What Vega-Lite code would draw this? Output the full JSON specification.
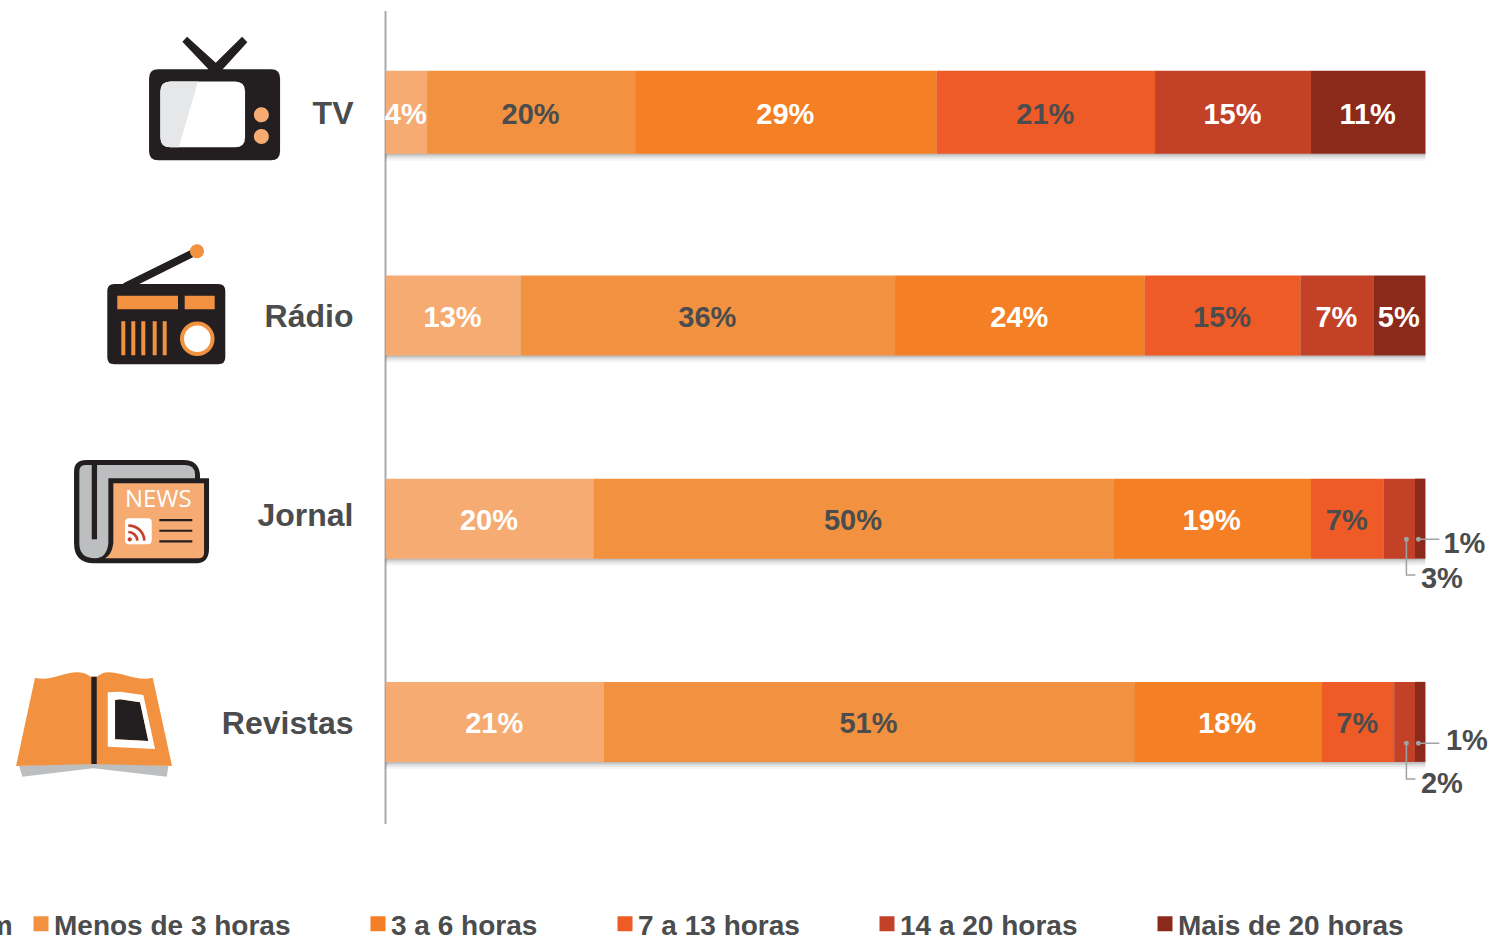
{"$schema":"https://vega.github.io/schema/vega-lite/v6.json","width":1491,"height":939,"padding":0,"autosize":{"type":"none"},"background":"#ffffff","config":{"view":{"stroke":null},"font":"Liberation Sans"},
"data":{"values":[
{"media":"TV","hours":"Nenhum","ordem":1,"pct":4},{"media":"TV","hours":"Menos de 3 horas","ordem":2,"pct":20},{"media":"TV","hours":"3 a 6 horas","ordem":3,"pct":29},{"media":"TV","hours":"7 a 13 horas","ordem":4,"pct":21},{"media":"TV","hours":"14 a 20 horas","ordem":5,"pct":15},{"media":"TV","hours":"Mais de 20 horas","ordem":6,"pct":11},
{"media":"Rádio","hours":"Nenhum","ordem":1,"pct":13},{"media":"Rádio","hours":"Menos de 3 horas","ordem":2,"pct":36},{"media":"Rádio","hours":"3 a 6 horas","ordem":3,"pct":24},{"media":"Rádio","hours":"7 a 13 horas","ordem":4,"pct":15},{"media":"Rádio","hours":"14 a 20 horas","ordem":5,"pct":7},{"media":"Rádio","hours":"Mais de 20 horas","ordem":6,"pct":5},
{"media":"Jornal","hours":"Nenhum","ordem":1,"pct":20},{"media":"Jornal","hours":"Menos de 3 horas","ordem":2,"pct":50},{"media":"Jornal","hours":"3 a 6 horas","ordem":3,"pct":19},{"media":"Jornal","hours":"7 a 13 horas","ordem":4,"pct":7},{"media":"Jornal","hours":"14 a 20 horas","ordem":5,"pct":3},{"media":"Jornal","hours":"Mais de 20 horas","ordem":6,"pct":1},
{"media":"Revistas","hours":"Nenhum","ordem":1,"pct":21},{"media":"Revistas","hours":"Menos de 3 horas","ordem":2,"pct":51},{"media":"Revistas","hours":"3 a 6 horas","ordem":3,"pct":18},{"media":"Revistas","hours":"7 a 13 horas","ordem":4,"pct":7},{"media":"Revistas","hours":"14 a 20 horas","ordem":5,"pct":2},{"media":"Revistas","hours":"Mais de 20 horas","ordem":6,"pct":1}
]},
"transform":[{"stack":"pct","groupby":["media"],"sort":[{"field":"ordem","order":"ascending"}],"as":["x0","x1"]},{"calculate":"(datum.x0+datum.x1)/2","as":"mid"},{"calculate":"datum.pct+'%'","as":"rotulo"}],
"encoding":{"y":{"field":"media","type":"nominal","sort":null,"title":null,"scale":{"type":"band","domain":["TV","Rádio","Jornal","Revistas"],"range":[10.5,823.5],"paddingInner":0,"paddingOuter":0},"axis":{"offset":-385,"orient":"left","ticks":false,"grid":false,"domain":true,"domainColor":"#a8aaab","domainWidth":2,"labelFont":"Liberation Sans","labelFontWeight":"bold","labelFontSize":32,"labelColor":"#4a4c4d","labelPadding":32,"labelOffset":{"condition":{"test":"datum.value==='Jornal'","value":-3},"value":2},"labelLimit":300,"title":null}}},
"layer":[
{"mark":{"type":"bar","color":"#000000","opacity":0.04,"yOffset":7},"encoding":{"x":{"field":"x0","type":"quantitative","title":null,"axis":null,"scale":{"domain":[-37.084,106.309],"nice":false,"zero":false}},"x2":{"field":"x1"},"size":{"condition":{"test":"datum.media==='TV'","value":83},"value":80}}},
{"mark":{"type":"bar","color":"#000000","opacity":0.06,"yOffset":5},"encoding":{"x":{"field":"x0","type":"quantitative"},"x2":{"field":"x1"},"size":{"condition":{"test":"datum.media==='TV'","value":83},"value":80}}},
{"mark":{"type":"bar","color":"#000000","opacity":0.08,"yOffset":3},"encoding":{"x":{"field":"x0","type":"quantitative"},"x2":{"field":"x1"},"size":{"condition":{"test":"datum.media==='TV'","value":83},"value":80}}},
{"mark":{"type":"bar","color":"#000000","opacity":0.1,"yOffset":1.5},"encoding":{"x":{"field":"x0","type":"quantitative"},"x2":{"field":"x1"},"size":{"condition":{"test":"datum.media==='TV'","value":83},"value":80}}},
{"mark":{"type":"bar"},"encoding":{"x":{"field":"x0","type":"quantitative"},"x2":{"field":"x1"},"size":{"condition":{"test":"datum.media==='TV'","value":83},"value":80},"color":{"field":"hours","type":"nominal","sort":null,"scale":{"domain":["Nenhum","Menos de 3 horas","3 a 6 horas","7 a 13 horas","14 a 20 horas","Mais de 20 horas"],"range":["#F5AB72","#F29241","#F47F24","#EE5B27","#C24127","#8B2A1B"]},"legend":{"orient":"none","legendX":27,"legendY":909.5,"direction":"horizontal","columns":5,"values":["Menos de 3 horas","3 a 6 horas","7 a 13 horas","14 a 20 horas","Mais de 20 horas"],"title":null,"symbolType":"square","symbolSize":225,"symbolStrokeWidth":0,"labelFont":"Liberation Sans","labelFontWeight":"bold","labelFontSize":28,"labelColor":"#4a4c4d","columnPadding":73,"labelOffset":-1,"labelLimit":500,"padding":0,"encoding":{"labels":{"dy":{"value":3.5}}}}}}},
{"transform":[{"filter":"datum.pct>3&&(datum.media==='TV'||datum.media==='Rádio')"}],"mark":{"type":"text","font":"Liberation Sans","fontWeight":"bold","fontSize":29,"align":"center","baseline":"middle","dx":-0.6,"dy":3},"encoding":{"x":{"field":"mid","type":"quantitative"},"text":{"field":"rotulo"},"color":{"condition":{"test":"datum.ordem===2||datum.ordem===4","value":"#4a4c4d"},"value":"#ffffff"}}},
{"transform":[{"filter":"datum.pct>3&&(datum.media==='Jornal'||datum.media==='Revistas')"}],"mark":{"type":"text","font":"Liberation Sans","fontWeight":"bold","fontSize":29,"align":"center","baseline":"middle","dx":-0.6,"dy":2},"encoding":{"x":{"field":"mid","type":"quantitative"},"text":{"field":"rotulo"},"color":{"condition":{"test":"datum.ordem===2||datum.ordem===4","value":"#4a4c4d"},"value":"#ffffff"}}},
{"transform":[{"filter":"datum.media==='Jornal'&&datum.ordem===6"}],"mark":{"type":"text","font":"Liberation Sans","fontWeight":"bold","fontSize":29,"align":"left","baseline":"middle","dx":18,"dy":25.5,"color":"#4a4c4d"},"encoding":{"x":{"datum":100},"text":{"field":"rotulo"}}},
{"transform":[{"filter":"datum.media==='Jornal'&&datum.ordem===5"}],"mark":{"type":"text","font":"Liberation Sans","fontWeight":"bold","fontSize":29,"align":"left","baseline":"middle","dx":-4.5,"dy":60,"color":"#4a4c4d"},"encoding":{"x":{"datum":100},"text":{"field":"rotulo"}}},
{"transform":[{"filter":"datum.media==='Revistas'&&datum.ordem===6"}],"mark":{"type":"text","font":"Liberation Sans","fontWeight":"bold","fontSize":29,"align":"left","baseline":"middle","dx":20.5,"dy":19,"color":"#4a4c4d"},"encoding":{"x":{"datum":100},"text":{"field":"rotulo"}}},
{"transform":[{"filter":"datum.media==='Revistas'&&datum.ordem===5"}],"mark":{"type":"text","font":"Liberation Sans","fontWeight":"bold","fontSize":29,"align":"left","baseline":"middle","dx":-4.5,"dy":62,"color":"#4a4c4d"},"encoding":{"x":{"datum":100},"text":{"field":"rotulo"}}},
{"data":{"values":[{"media":"Revistas","hours":"Nenhum"}]},"mark":{"type":"text","font":"Liberation Sans","fontWeight":"bold","fontSize":28,"align":"right","baseline":"middle","dx":0,"dy":205,"color":"#4a4c4d"},"encoding":{"x":{"datum":-35.87},"text":{"field":"hours"}}},
{"data":{"values":[{"media":"Jornal"}]},"mark":{"type":"point","filled":false,"size":4,"opacity":1,"stroke":"#a0a2a3","strokeWidth":1.5,"shape":"M-7,20.7 L14,20.7 M-19,20.7 L-19,56.4 L-10,56.4"},"encoding":{"x":{"datum":100}}},
{"data":{"values":[{"media":"Jornal"}]},"mark":{"type":"point","filled":true,"size":4,"opacity":1,"fill":"#a0a2a3","strokeWidth":0,"shape":"M-9.5,20.7 A2.5,2.5 0 1,0 -4.5,20.7 A2.5,2.5 0 1,0 -9.5,20.7 Z M-21.5,20.7 A2.5,2.5 0 1,0 -16.5,20.7 A2.5,2.5 0 1,0 -21.5,20.7 Z"},"encoding":{"x":{"datum":100}}},
{"data":{"values":[{"media":"Revistas"}]},"mark":{"type":"point","filled":false,"size":4,"opacity":1,"stroke":"#a0a2a3","strokeWidth":1.5,"shape":"M-7,21.4 L14,21.4 M-19,21.4 L-19,57.1 L-10,57.1"},"encoding":{"x":{"datum":100}}},
{"data":{"values":[{"media":"Revistas"}]},"mark":{"type":"point","filled":true,"size":4,"opacity":1,"fill":"#a0a2a3","strokeWidth":0,"shape":"M-9.5,21.4 A2.5,2.5 0 1,0 -4.5,21.4 A2.5,2.5 0 1,0 -9.5,21.4 Z M-21.5,21.4 A2.5,2.5 0 1,0 -16.5,21.4 A2.5,2.5 0 1,0 -21.5,21.4 Z"},"encoding":{"x":{"datum":100}}},

{"data":{"values":[{"media":"TV"}]},"mark":{"type":"point","filled":true,"size":4,"opacity":1,"fill":"#231F20","strokeWidth":0,"shape":"M-57,-43 L56,-43 Q65,-43 65,-34 L65,39 Q65,48 56,48 L-57,48 Q-66,48 -66,39 L-66,-34 Q-66,-43 -57,-43 Z M-28,-75.3 L0.7,-49.3 L27,-75.3 L32.3,-70 L6.7,-42 L-5.7,-42 L-32.7,-70.3 Z"},"encoding":{"x":{"datum":-16.4}}},
{"data":{"values":[{"media":"TV"}]},"mark":{"type":"point","filled":true,"size":4,"opacity":1,"fill":"#ffffff","strokeWidth":0,"shape":"M-44.7,-30.7 L20,-30.7 Q30,-30.7 30,-20.7 L30,25 Q30,35 20,35 L-44.7,35 Q-54.7,35 -54.7,25 L-54.7,-20.7 Q-54.7,-30.7 -44.7,-30.7 Z"},"encoding":{"x":{"datum":-16.4}}},
{"data":{"values":[{"media":"TV"}]},"mark":{"type":"point","filled":true,"size":4,"opacity":1,"fill":"#E6E7E8","strokeWidth":0,"shape":"M-44.7,-30.7 L-17,-30.7 L-36.3,35 L-44.7,35 Q-54.7,35 -54.7,25 L-54.7,-20.7 Q-54.7,-30.7 -44.7,-30.7 Z"},"encoding":{"x":{"datum":-16.4}}},
{"data":{"values":[{"media":"TV"}]},"mark":{"type":"point","filled":true,"size":4,"opacity":1,"fill":"#F5AB72","strokeWidth":0,"shape":"M38.8,2.7 A7.5,7.5 0 1,0 53.8,2.7 A7.5,7.5 0 1,0 38.8,2.7 Z M38.8,24.3 A7.5,7.5 0 1,0 53.8,24.3 A7.5,7.5 0 1,0 38.8,24.3 Z"},"encoding":{"x":{"datum":-16.4}}},

{"data":{"values":[{"media":"Rádio"}]},"mark":{"type":"point","filled":true,"size":4,"opacity":1,"fill":"#231F20","strokeWidth":0,"shape":"M-51.7,-31.4 L52.3,-31.4 Q59.3,-31.4 59.3,-24.4 L59.3,41.9 Q59.3,48.9 52.3,48.9 L-51.7,48.9 Q-58.7,48.9 -58.7,41.9 L-58.7,-24.4 Q-58.7,-31.4 -51.7,-31.4 Z M-42.7,-32.1 L24.7,-65.4 L28,-58.7 L-27.7,-31 L-42.7,-31 Z"},"encoding":{"x":{"datum":-21.12}}},
{"data":{"values":[{"media":"Rádio"}]},"mark":{"type":"point","filled":true,"size":4,"opacity":1,"fill":"#F29241","strokeWidth":0,"shape":"M24,-64.1 A7,7 0 1,0 38,-64.1 A7,7 0 1,0 24,-64.1 Z M-48.7,-19.7 L12,-19.7 L12,-6.1 L-48.7,-6.1 Z M18.7,-19.7 L48.7,-19.7 L48.7,-6.1 L18.7,-6.1 Z M-44.7,5.9 L-40.7,5.9 L-40.7,39.9 L-44.7,39.9 Z M-34.7,5.9 L-30.7,5.9 L-30.7,39.9 L-34.7,39.9 Z M-24.7,5.9 L-20.7,5.9 L-20.7,39.9 L-24.7,39.9 Z M-13.3,5.9 L-9.3,5.9 L-9.3,39.9 L-13.3,39.9 Z M-3.3,5.9 L0.7,5.9 L0.7,39.9 L-3.3,39.9 Z M14,23.3 A17.3,17.3 0 1,0 48.6,23.3 A17.3,17.3 0 1,0 14,23.3 Z"},"encoding":{"x":{"datum":-21.12}}},
{"data":{"values":[{"media":"Rádio"}]},"mark":{"type":"point","filled":true,"size":4,"opacity":1,"fill":"#ffffff","strokeWidth":0,"shape":"M18,23.3 A13.3,13.3 0 1,0 44.6,23.3 A13.3,13.3 0 1,0 18,23.3 Z"},"encoding":{"x":{"datum":-21.12}}},

{"data":{"values":[{"media":"Jornal"}]},"mark":{"type":"point","filled":true,"size":4,"opacity":1,"fill":"#231F20","strokeWidth":0,"shape":"M-55,-58.6 L42,-58.6 Q59,-58.6 59,-42 L59,-40.3 L68,-40.3 L68,30 Q68,44.7 54,44.7 L-47,44.7 Q-67,44.7 -67,24.7 L-67,-47 Q-67,-58.6 -55,-58.6 Z"},"encoding":{"x":{"datum":-23.52}}},
{"data":{"values":[{"media":"Jornal"}]},"mark":{"type":"point","filled":true,"size":4,"opacity":1,"fill":"#BCBEC0","strokeWidth":0,"shape":"M-56,-53.6 L44,-53.6 Q54,-53.6 54,-43.6 L54,-40.3 L-32.7,-40.3 L-32.7,24.7 Q-34.3,39.7 -46,39.7 Q-61.7,39.7 -61.7,24.7 L-61.7,-46.9 Q-61.7,-53.6 -56,-53.6 Z"},"encoding":{"x":{"datum":-23.52}}},
{"data":{"values":[{"media":"Jornal"}]},"mark":{"type":"point","filled":true,"size":4,"opacity":1,"fill":"#231F20","strokeWidth":0,"shape":"M-49.3,-53.6 L-44,-53.6 L-44,20.7 L-49.3,20.7 Z"},"encoding":{"x":{"datum":-23.52}}},
{"data":{"values":[{"media":"Jornal"}]},"mark":{"type":"point","filled":true,"size":4,"opacity":1,"fill":"#F5AB72","strokeWidth":0,"shape":"M-27.7,-35.3 L63,-35.3 L63,34.7 Q63,39.7 57.3,39.7 L-36,39.7 Q-29.3,36.4 -27.7,24.7 Z"},"encoding":{"x":{"datum":-23.52}}},
{"data":{"values":[{"media":"Jornal"}]},"mark":{"type":"point","filled":true,"size":4,"opacity":1,"fill":"#ffffff","strokeWidth":0,"shape":"M-12,-0.3 L6.7,-0.3 Q10.7,-0.3 10.7,3.7 L10.7,21.7 Q10.7,25.7 6.7,25.7 L-12,25.7 Q-16,25.7 -16,21.7 L-16,3.7 Q-16,-0.3 -12,-0.3 Z"},"encoding":{"x":{"datum":-23.52}}},
{"data":{"values":[{"media":"Jornal"}]},"mark":{"type":"point","filled":true,"size":4,"opacity":1,"fill":"#231F20","strokeWidth":0,"shape":"M18.3,0.3 L51.3,0.3 L51.3,2.5 L18.3,2.5 Z M18.3,11 L51.3,11 L51.3,13.2 L18.3,13.2 Z M18.3,21.6 L51.3,21.6 L51.3,23.8 L18.3,23.8 Z"},"encoding":{"x":{"datum":-23.52}}},
{"data":{"values":[{"media":"Jornal"}]},"mark":{"type":"point","filled":false,"size":4,"opacity":1,"stroke":"#C24127","strokeWidth":2.7,"shape":"M-12.7,7 A15.5,15.5 0 0 1 3.3,22 M-12.7,13.4 A9,9 0 0 1 -3.7,22"},"encoding":{"x":{"datum":-23.52}}},
{"data":{"values":[{"media":"Jornal"}]},"mark":{"type":"point","filled":true,"size":4,"opacity":1,"fill":"#C24127","strokeWidth":0,"shape":"M-13.5,20.7 A2.2,2.2 0 1,0 -9.1,20.7 A2.2,2.2 0 1,0 -13.5,20.7 Z"},"encoding":{"x":{"datum":-23.52}}},
{"data":{"values":[{"media":"Jornal"}]},"mark":{"type":"text","text":"NEWS","font":"Open Sans","fontSize":24,"color":"#ffffff","align":"center","baseline":"middle","dy":-19},"encoding":{"x":{"datum":-21.86}}},

{"data":{"values":[{"media":"Revistas"}]},"mark":{"type":"point","filled":true,"size":4,"opacity":1,"fill":"#BCBEC0","strokeWidth":0,"shape":"M-75,44 L-71.7,54.8 L-0.7,46.4 L72.7,54.8 L74.3,44 L-0.7,40 Z"},"encoding":{"x":{"datum":-28.04}}},
{"data":{"values":[{"media":"Revistas"}]},"mark":{"type":"point","filled":true,"size":4,"opacity":1,"fill":"#F29241","strokeWidth":0,"shape":"M-78,44.1 L-59,-44.2 C-45,-40 -30,-50 -15.7,-49.6 C-10,-49.5 -6,-47 -3.3,-45.2 L2.7,-45.2 C6,-47 9,-49.5 12.7,-49.6 C28,-50 44,-40 58.7,-44.2 L78,44.1 L-0.7,42.1 Z"},"encoding":{"x":{"datum":-28.04}}},
{"data":{"values":[{"media":"Revistas"}]},"mark":{"type":"point","filled":true,"size":4,"opacity":1,"fill":"#231F20","strokeWidth":0,"shape":"M-2.7,-45.2 L2.7,-45.2 L2.7,42.1 L-2.7,42.1 Z M21,-21.9 L26,-22.6 L46,-19.6 L54.3,19.1 L21,17.4 Z"},"encoding":{"x":{"datum":-28.04}}},
{"data":{"values":[{"media":"Revistas"}]},"mark":{"type":"point","filled":true,"size":4,"opacity":1,"fill":"#ffffff","strokeWidth":0,"shape":"M13.7,-29.6 L26,-30.2 L49.3,-26.9 L61,27.1 L13.7,24.8 Z M21,-21.9 L21,17.4 L54.3,19.1 L46,-19.6 L26,-22.6 Z"},"encoding":{"x":{"datum":-28.04}}}
]}
